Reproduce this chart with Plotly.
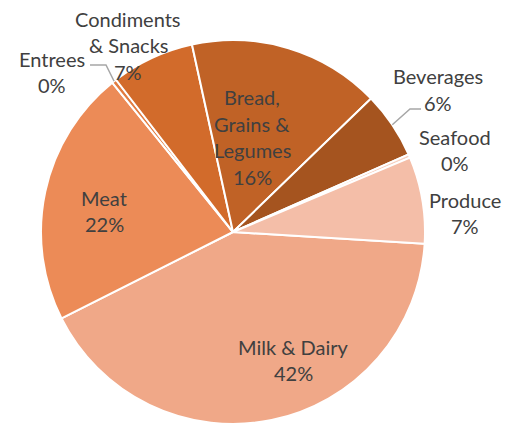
import math
import plotly.graph_objects as go

# ---------------- data ----------------
categories = ["Milk & Dairy", "Meat", "Entrees", "Condiments & Snacks",
              "Bread, Grains & Legumes", "Beverages", "Seafood", "Produce"]
values = [41.6, 21.6, 0.4, 7.0, 16.2, 5.6, 0.3, 7.3]
label_lines = [["Milk & Dairy"], ["Meat"], ["Entrees"], ["Condiments", "& Snacks"],
               ["Bread,", "Grains &", "Legumes"], ["Beverages"], ["Seafood"], ["Produce"]]

# ---------------- style / layout ----------------
W, H = 513, 424
colors = ["#F0A888", "#EC8B57", "#E27C40", "#D26B2B",
          "#C06226", "#A5541F", "#F7D0BF", "#F4BEA8"]
CX, CY, R = 233, 232, 192          # pie centre / radius in pixels
ROTATION = 93.5                     # degrees clockwise from 12 o'clock
FONT = "Lato"
FSIZE = 20
TXT = "#404040"
LINE_SP = 26.5
# label block centres (pixels)
label_centres = [(293, 360), (104, 211), (52, 72), (128, 45),
                 (252, 137), (438, 89.5), (455, 150), (465, 213)]


def px(x):
    return x / W


def py(y):
    return 1 - y / H


fig = go.Figure(go.Pie(
    labels=categories, values=values, sort=False, direction="clockwise",
    rotation=ROTATION, textinfo="none", hoverinfo="label+percent",
    marker=dict(colors=colors, line=dict(color="white", width=2)),
    domain=dict(x=[px(CX - R), px(CX + R)], y=[py(CY + R), py(CY - R)]),
    showlegend=False,
))

total = sum(values)
annotations = []
for lines, v, (cx, cy) in zip(label_lines, values, label_centres):
    pct = int(v / total * 100 + 0.5)
    allines = lines + [f"{pct}%"]
    n = len(allines)
    for i, t in enumerate(allines):
        yy = cy + (i - (n - 1) / 2) * LINE_SP
        annotations.append(dict(
            x=px(cx), y=py(yy), xref="paper", yref="paper", text=t,
            showarrow=False, xanchor="center", yanchor="middle",
            font=dict(family=FONT, size=FSIZE, color=TXT)))

# slice mid-angles -> edge points for leader lines
cum = 0
edge = {}
for c, v in zip(categories, values):
    mid = ROTATION + (cum + v / 2) / total * 360
    a = math.radians(mid)
    edge[c] = (CX + R * math.sin(a), CY - R * math.cos(a))
    cum += v


def path(pts):
    return "M " + " L ".join(f"{px(x)},{py(y)}" for x, y in pts)


shapes = [
    dict(type="path", xref="paper", yref="paper",
         path=path([(90, 65), (106, 65), edge["Entrees"]]),
         line=dict(color="#A6A6A6", width=1.5)),
    dict(type="path", xref="paper", yref="paper",
         path=path([edge["Beverages"], (410, 109), (421, 109)]),
         line=dict(color="#A6A6A6", width=1.5)),
]

fig.update_layout(
    width=W, height=H, margin=dict(l=0, r=0, t=0, b=0),
    paper_bgcolor="white", plot_bgcolor="white",
    annotations=annotations, shapes=shapes,
    font=dict(family=FONT, size=FSIZE, color=TXT),
)

fig.write_html("out.html", config={"displayModeBar": False},
               post_script="document.body.style.margin='0';"
                           "document.body.style.overflow='hidden';")
